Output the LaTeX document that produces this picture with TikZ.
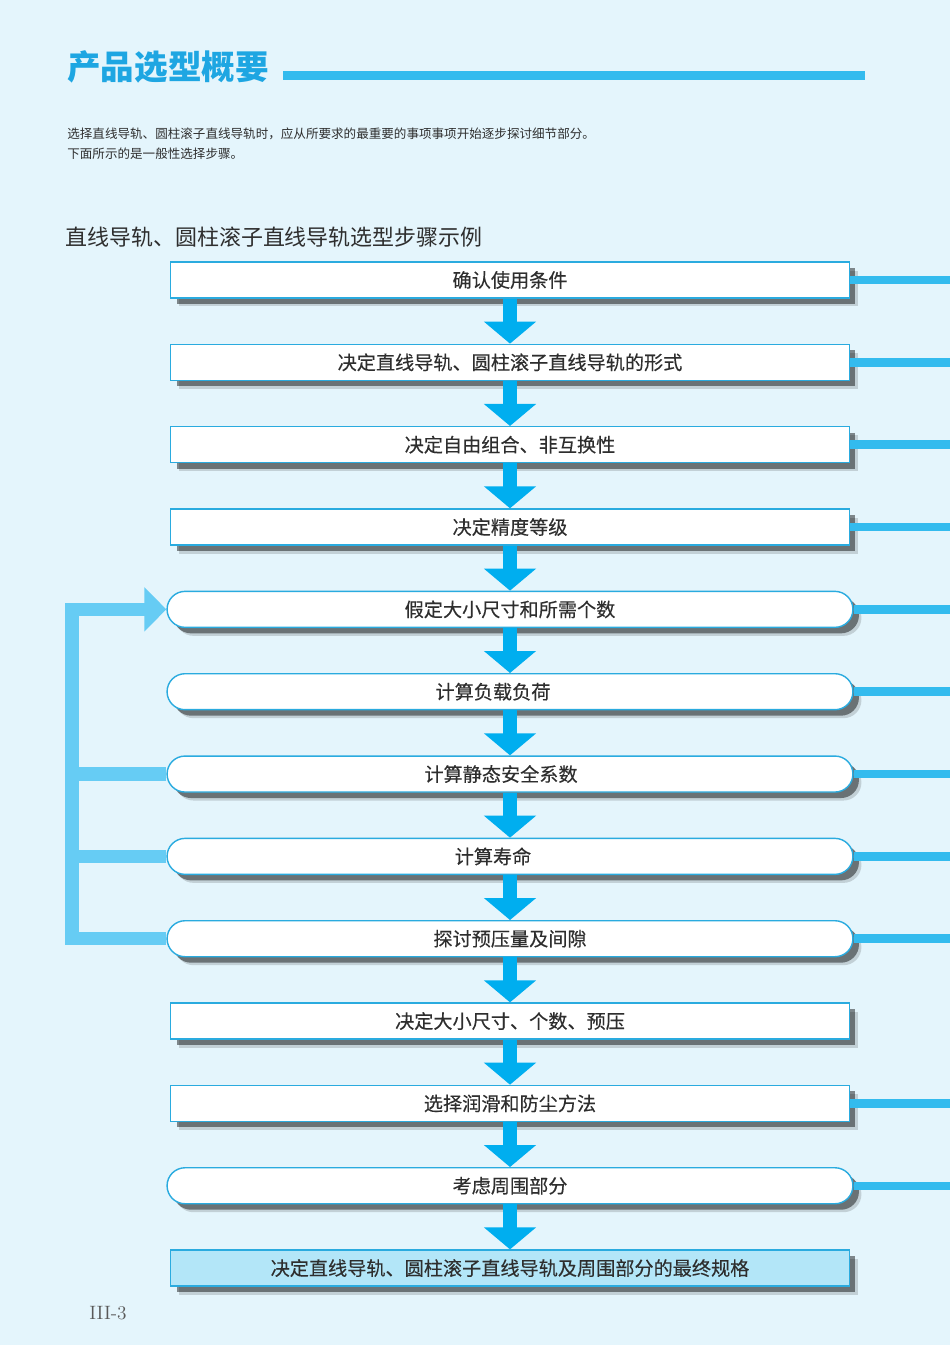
\documentclass[tikz,border=0pt]{standalone}
\usepackage{fontspec}
\usetikzlibrary{positioning,calc,arrows.meta,shapes.misc,shadows}
\newfontfamily\cjk{Noto Sans CJK SC}
\newfontfamily\cjkm[FakeBold=0.25]{Noto Sans CJK SC}
\definecolor{bg}{HTML}{E4F5FC}
\definecolor{ttl}{HTML}{1EA6E2}
\definecolor{bar}{HTML}{33BBEE}
\definecolor{edg}{HTML}{2AABDF}
\definecolor{dnc}{HTML}{00AEEF}
\definecolor{fbc}{HTML}{66CCF4}
\definecolor{fin}{HTML}{B3E6F8}
\definecolor{txt}{HTML}{2E2E2E}
\tikzset{
  shd/.style={drop shadow={shadow xshift=0.17cm, shadow yshift=-0.17cm, fill=black, opacity=0.15},
              drop shadow={shadow xshift=0.12cm, shadow yshift=-0.12cm, fill=black, opacity=0.45}},
  stp/.style={draw=edg, line width=0.8pt, fill=white, shd, minimum width=13.58cm, minimum height=0.72cm,
              inner sep=0pt, text=txt, font=\cjkm\fontsize{10.9}{12}\selectfont},
  rnd/.style={stp, rounded rectangle, minimum width=13.72cm},
  dn/.style={dnc, line width=0.28cm, -{Triangle[width=1.02cm, length=0.44cm]}},
  fb/.style={fbc, line width=0.27cm, line join=miter},
  rl/.style={bar, line width=0.17cm},
  lbl/.style={anchor=west, inner sep=0pt, text=txt}}

\begin{document}
\begin{tikzpicture}[x=0.02cm, y=-0.02cm, node distance=0.899cm]
\useasboundingbox (0,0) rectangle (950,1345);
\fill[bg] (0,0) rectangle (950,1345);
% heading
\node[lbl, text=ttl, font=\cjk\bfseries\fontsize{19.1}{21}\selectfont] (ttl) at (67,67) {产品选型概要};
\draw[rl, line width=0.18cm] (283,75.5) -- (865,75.5);
\node[lbl, font=\cjk\fontsize{7.15}{8}\selectfont] (in1) at (67,134) {选择直线导轨、圆柱滚子直线导轨时，应从所要求的最重要的事项事项开始逐步探讨细节部分。};
\node[lbl, font=\cjk\fontsize{7.15}{8}\selectfont] (in2) at (67,154) {下面所示的是一般性选择步骤。};
\node[lbl, font=\cjk\fontsize{12.5}{14}\selectfont] (hd) at (65,237) {直线导轨、圆柱滚子直线导轨选型步骤示例};
% steps
\node[stp] (s1) at (510,280) {确认使用条件};
\node[stp, below=of s1] (s2) {决定直线导轨、圆柱滚子直线导轨的形式};
\node[stp, below=of s2] (s3) {决定自由组合、非互换性};
\node[stp, below=of s3] (s4) {决定精度等级};
\node[rnd, below=of s4] (s5) {假定大小尺寸和所需个数};
\node[rnd, below=of s5] (s6) {计算负载负荷\hspace*{0.68cm}};
\node[rnd, below=of s6] (s7) {计算静态安全系数\hspace*{0.36cm}};
\node[rnd, below=of s7] (s8) {计算寿命\hspace*{0.68cm}};
\node[rnd, below=of s8] (s9) {探讨预压量及间隙};
\node[stp, below=of s9] (s10) {决定大小尺寸、个数、预压};
\node[stp, below=of s10] (s11) {选择润滑和防尘方法};
\node[rnd, below=of s11] (s12) {考虑周围部分};
\node[stp, fill=fin, below=of s12] (s13) {决定直线导轨、圆柱滚子直线导轨及周围部分的最终规格};
\node[lbl, text=black!65, font=\fontsize{11}{12}\selectfont] (pg) at (89,1313) {III-3};
% down arrows
\draw[dn] (s1.south) -- (s2.north);
\draw[dn] (s2.south) -- (s3.north);
\draw[dn] (s3.south) -- (s4.north);
\draw[dn] (s4.south) -- (s5.north);
\draw[dn] (s5.south) -- (s6.north);
\draw[dn] (s6.south) -- (s7.north);
\draw[dn] (s7.south) -- (s8.north);
\draw[dn] (s8.south) -- (s9.north);
\draw[dn] (s9.south) -- (s10.north);
\draw[dn] (s10.south) -- (s11.north);
\draw[dn] (s11.south) -- (s12.north);
\draw[dn] (s12.south) -- (s13.north);
% bars to the right edge
\coordinate (rx) at (950,0);
\draw[rl] (s1.east) -- (s1.east -| rx);
\draw[rl] (s2.east) -- (s2.east -| rx);
\draw[rl] (s3.east) -- (s3.east -| rx);
\draw[rl] (s4.east) -- (s4.east -| rx);
\draw[rl] (s5.east) -- (s5.east -| rx);
\draw[rl] (s6.east) -- (s6.east -| rx);
\draw[rl] (s7.east) -- (s7.east -| rx);
\draw[rl] (s8.east) -- (s8.east -| rx);
\draw[rl] (s9.east) -- (s9.east -| rx);
\draw[rl] (s11.east) -- (s11.east -| rx);
\draw[rl] (s12.east) -- (s12.east -| rx);
% feedback loop
\coordinate (fbx) at (72,0);
\draw[fb, -{Triangle[width=0.86cm, length=0.44cm]}] (s9.west) -| (fbx |- s5.west) -- (s5.west);
\draw[fb] (s7.west) -- (s7.west -| fbx);
\draw[fb] (s8.west) -- (s8.west -| fbx);
\end{tikzpicture}
\end{document}
